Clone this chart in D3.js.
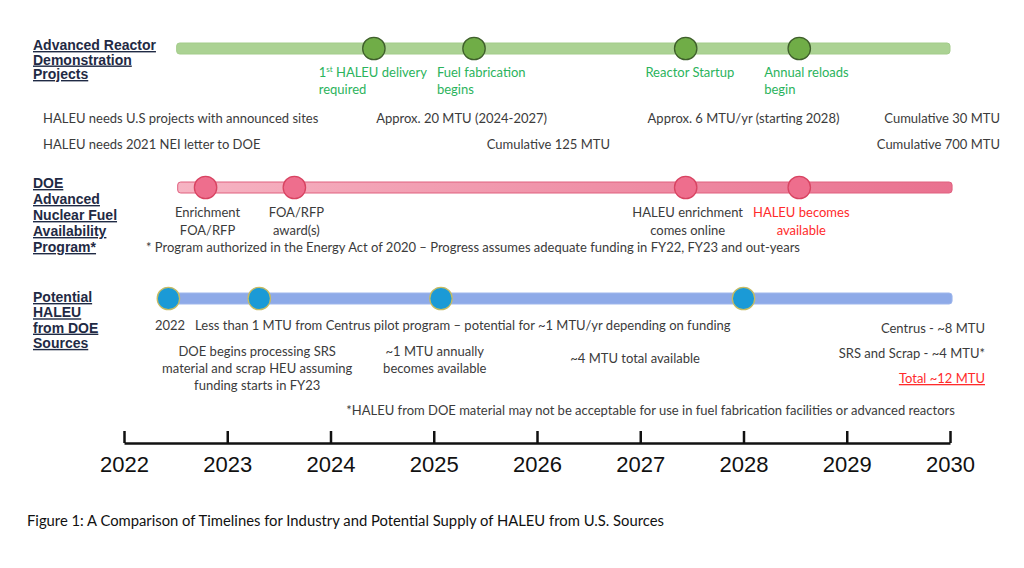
<!DOCTYPE html>
<html>
<head>
<meta charset="utf-8">
<script src="https://cdn.jsdelivr.net/npm/d3@7"></script>
<style>
  html, body { margin: 0; padding: 0; background: #fff; }
  svg { display: block; }
  .title { font-family: "Liberation Sans", Arial, sans-serif; font-weight: bold; font-size: 14px; fill: #1f2a44; text-decoration: underline; }
  .body { font-family: Lato, "Noto Sans", sans-serif; font-size: 13px; fill: #3b3b3b; }
  .green { fill: #2bb35c; }
  .red { fill: #ff2b2b; }
  .caption { font-family: Lato, "Noto Sans", sans-serif; font-size: 14.8px; fill: #111; }
  .axis text { font-family: "Liberation Sans", Arial, sans-serif; font-size: 22px; fill: #111; }
  .axis path, .axis line { stroke: #111; stroke-width: 2.5; }
</style>
</head>
<body>
<svg id="chart" width="1024" height="568"></svg>
<script>
// ---------- data ----------
const yearTicks = [2022, 2023, 2024, 2025, 2026, 2027, 2028, 2029, 2030];
const yearTickLabels = ["2022", "2023", "2024", "2025", "2026", "2027", "2028", "2029", "2030"];

// Advanced Reactor Demonstration Projects (green)
const adrpTitle = ["Advanced Reactor", "Demonstration", "Projects"];
const adrpSpan = [2022.51, 2030.0];
const adrpMilestones = [2024.42, 2025.39, 2027.44, 2028.54];
const adrpLabels = [["1|st| HALEU delivery", "required"], ["Fuel fabrication", "begins"], ["Reactor Startup"], ["Annual reloads", "begin"]];
const adrpLabelYears = [2024.41, 2025.46, 2027.48, 2028.61];
const adrpNeedsLeft = ["HALEU needs U.S projects with announced sites", "HALEU needs 2021 NEI letter to DOE"];
const adrpNotes = ["Approx. 20 MTU (2024-2027)", "Approx. 6 MTU/yr (starting 2028)", "Cumulative 125 MTU"];
const adrpNoteYears = [2025.27, 2028.0, 2026.11];
const adrpNoteRows = [0, 0, 1];
const adrpCumulative = ["Cumulative 30 MTU", "Cumulative 700 MTU"];

// DOE Advanced Nuclear Fuel Availability Program (pink)
const doeTitle = ["DOE", "Advanced", "Nuclear Fuel", "Availability", "Program*"];
const doeSpan = [2022.52, 2030.02];
const doeMilestones = [2022.79, 2023.65, 2027.44, 2028.54];
const doeLabels = [["Enrichment", "FOA/RFP"], ["FOA/RFP", "award(s)"], ["HALEU enrichment", "comes online"], ["HALEU becomes", "available"]];
const doeLabelRed = [false, false, false, true];
const doeFootnote = "* Program authorized in the Energy Act of 2020 \u2013 Progress assumes adequate funding in FY22, FY23 and out-years";

// Potential HALEU from DOE Sources (blue)
const potTitle = ["Potential", "HALEU", "from DOE", "Sources"];
const potSpan = [2022.34, 2030.02];
const potMilestones = [2022.43, 2023.31, 2025.07, 2028.0];
const potPilot = "2022\u00a0\u00a0\u00a0Less than 1 MTU from Centrus pilot program \u2013 potential for ~1 MTU/yr depending on funding";
const potPilotYear = 2022.3;
const potNotes = [["DOE begins processing SRS", "material and scrap HEU assuming", "funding starts in FY23"], ["~1 MTU annually", "becomes available"], ["~4 MTU total available"]];
const potNoteYears = [2023.29, 2025.01, 2026.95];
const potTotals = ["Centrus - ~8 MTU", "SRS and Scrap - ~4 MTU*", "Total ~12 MTU"];
const potFootnote = "*HALEU from DOE material may not be acceptable for use in fuel fabrication facilities or advanced reactors";
const potFootnoteYear = 2027.1;

const caption = "Figure 1: A Comparison of Timelines for Industry and Potential Supply of HALEU from U.S. Sources";

// ---------- layout ----------
const svg = d3.select("#chart");
const x = d3.scaleLinear().domain([2022, 2030]).range([124, 950]);
const leftTitleX = 33;
const leftTextX = 43;
const rightTextX = 1000;
const rightTotalsX = 985;

const defs = svg.append("defs");
const pg = defs.append("linearGradient").attr("id", "pinkGrad").attr("x1", "0%").attr("x2", "100%");
pg.append("stop").attr("offset", "0%").attr("stop-color", "#f6b4c3");
pg.append("stop").attr("offset", "100%").attr("stop-color", "#e9718f");

function title(lines, baseline, step) {
  const t = svg.append("g");
  lines.forEach((l, i) => {
    t.append("text").attr("class", "title").attr("x", leftTitleX).attr("y", baseline + i * step).text(l);
  });
}

function track(span, cy, fill, stroke, milestones, cfill, cstroke) {
  const g = svg.append("g");
  g.append("rect")
    .attr("x", x(span[0])).attr("y", cy - 5.5)
    .attr("width", x(span[1]) - x(span[0])).attr("height", 11)
    .attr("rx", 3).attr("fill", fill).attr("stroke", stroke).attr("stroke-width", 1);
  g.selectAll("circle").data(milestones).join("circle")
    .attr("cx", d => x(d)).attr("cy", cy).attr("r", 11.2)
    .attr("fill", cfill).attr("stroke", cstroke).attr("stroke-width", 1.3);
}

// ---------- Row 1: green ----------
title(adrpTitle, 50, 14.5);
track(adrpSpan, 48.5, "#abd293", "#a3cc8a", adrpMilestones, "#70ad47", "#3f5f2c");

adrpLabels.forEach((lines, i) => {
  const g = svg.append("g");
  const texts = lines.map((l, j) => {
    const t = g.append("text").attr("class", "body green").attr("y", 77 + j * 17);
    const parts = l.split("|");
    if (parts.length === 3) {
      t.append("tspan").text(parts[0]);
      t.append("tspan").attr("dy", -5).attr("font-size", "8px").text(parts[1]);
      t.append("tspan").attr("dy", 5).text(parts[2]);
    } else {
      t.text(l);
    }
    return t;
  });
  const w = texts[0].node().getComputedTextLength();
  texts.forEach(t => t.attr("x", x(adrpLabelYears[i]) - w / 2));
});

adrpNeedsLeft.forEach((s, i) => {
  svg.append("text").attr("class", "body").attr("x", leftTextX).attr("y", 123 + i * 26).text(s);
});
adrpNotes.forEach((s, i) => {
  svg.append("text").attr("class", "body").attr("text-anchor", "middle")
    .attr("x", x(adrpNoteYears[i])).attr("y", 123 + adrpNoteRows[i] * 26).text(s);
});
adrpCumulative.forEach((s, i) => {
  svg.append("text").attr("class", "body").attr("text-anchor", "end")
    .attr("x", rightTextX).attr("y", 123 + i * 26).text(s);
});

// ---------- Row 2: pink ----------
title(doeTitle, 188, 16);
track(doeSpan, 187.5, "url(#pinkGrad)", "#e0607f", doeMilestones, "#ee6e8d", "#d84462");

doeLabels.forEach((lines, i) => {
  lines.forEach((l, j) => {
    svg.append("text").attr("class", doeLabelRed[i] ? "body red" : "body")
      .attr("text-anchor", "middle")
      .attr("x", x(doeMilestones[i]) + 2).attr("y", 217 + j * 17.5).text(l);
  });
});
svg.append("text").attr("class", "body").attr("x", 146).attr("y", 252).text(doeFootnote);

// ---------- Row 3: blue ----------
title(potTitle, 302, 15.3);
track(potSpan, 298.5, "#8eaae8", "#9fb7ec", potMilestones, "#1b9ad6", "#c7bb62");

svg.append("text").attr("class", "body").attr("x", x(potPilotYear)).attr("y", 330).text(potPilot);
potNotes.forEach((lines, i) => {
  const start = lines.length === 1 ? 363 : 356;
  lines.forEach((l, j) => {
    svg.append("text").attr("class", "body").attr("text-anchor", "middle")
      .attr("x", x(potNoteYears[i])).attr("y", start + j * 17).text(l);
  });
});
potTotals.forEach((s, i) => {
  const last = i === potTotals.length - 1;
  svg.append("text").attr("class", last ? "body red" : "body")
    .attr("text-anchor", "end")
    .attr("text-decoration", last ? "underline" : null)
    .attr("x", rightTotalsX).attr("y", 333 + i * 25).text(s);
});
svg.append("text").attr("class", "body").attr("text-anchor", "middle")
  .attr("x", x(potFootnoteYear)).attr("y", 415).text(potFootnote);

// ---------- Axis ----------
const axis = d3.axisBottom(x)
  .tickValues(yearTicks)
  .tickFormat((d, i) => yearTickLabels[i])
  .tickSize(-12)
  .tickSizeOuter(0)
  .tickPadding(13);
svg.append("g").attr("class", "axis").attr("transform", "translate(0,443)").call(axis);

// ---------- Caption ----------
svg.append("text").attr("class", "caption").attr("x", 27).attr("y", 526).text(caption);
</script>
</body>
</html>
